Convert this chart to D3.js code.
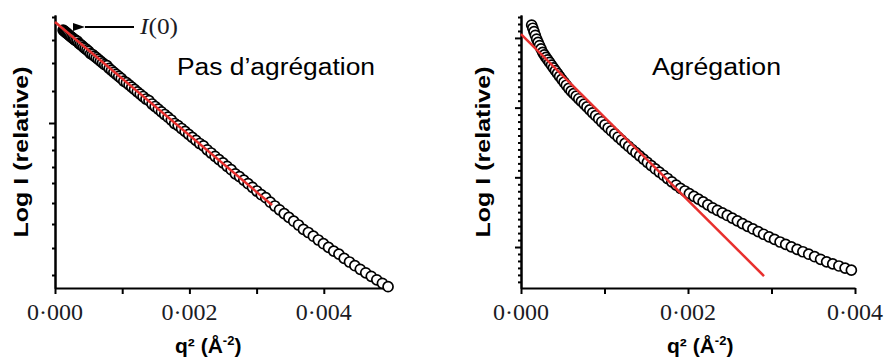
<!DOCTYPE html>
<html lang="fr">
  <head>
    <meta charset="UTF-8" />
    <title>Guinier plots</title>
    <script src="https://d3js.org/d3.v7.min.js"></script>
    <style>
      body {
        margin: 0;
        background: #fff;
      }
      .axis path,
      .axis line {
        stroke: #000;
        stroke-width: 2px;
      }
      .dot {
        fill: #fff;
        stroke: #000;
        stroke-width: 1.7px;
      }
      .fit {
        fill: none;
        stroke: #e8302e;
        stroke-width: 2.5px;
      }
    </style>
  </head>
  <body>
    <svg id="chart" width="888" height="360"></svg>

    <script>
      // q (Å^-1) and log I, left panel: no aggregation
      const leftQ = [
        0.011, 0.0116, 0.0122, 0.0128, 0.0134, 0.014, 0.0146, 0.0152, 0.0158, 0.0164,
        0.017, 0.0176, 0.0182, 0.0188, 0.0194, 0.02, 0.0206, 0.0212, 0.0218, 0.0224,
        0.023, 0.0236, 0.0242, 0.0248, 0.0254, 0.026, 0.0266, 0.0272, 0.0278, 0.0284,
        0.029, 0.0296, 0.0302, 0.0308, 0.0314, 0.032, 0.0326, 0.0332, 0.0338, 0.0344,
        0.035, 0.0356, 0.0362, 0.0368, 0.0374, 0.038, 0.0386, 0.0392, 0.0398, 0.0404,
        0.041, 0.0416, 0.0422, 0.0428, 0.0434, 0.044, 0.0446, 0.0452, 0.0458, 0.0464,
        0.047, 0.0476, 0.0482, 0.0488, 0.0494, 0.05, 0.0506, 0.0512, 0.0518, 0.0524,
        0.053, 0.0536, 0.0542, 0.0548, 0.0554, 0.056, 0.0566, 0.0572, 0.0578, 0.0584,
        0.059, 0.0596, 0.0602, 0.0608, 0.0614, 0.062, 0.0626, 0.0632, 0.0638, 0.0644,
        0.065, 0.0656, 0.0662, 0.0668, 0.0674, 0.068, 0.0686, 0.0692, 0.0698, 0.0704
      ];
      const leftLogI = [
        2.598, 2.591, 2.583, 2.575, 2.566, 2.557, 2.547, 2.537, 2.527, 2.516,
        2.505, 2.493, 2.489, 2.469, 2.456, 2.443, 2.429, 2.415, 2.401, 2.386,
        2.364, 2.355, 2.339, 2.323, 2.306, 2.289, 2.271, 2.253, 2.243, 2.216,
        2.197, 2.177, 2.157, 2.137, 2.116, 2.088, 2.073, 2.051, 2.029, 2.006,
        1.982, 1.959, 1.935, 1.91, 1.893, 1.86, 1.835, 1.809, 1.782, 1.755,
        1.728, 1.7, 1.665, 1.644, 1.615, 1.586, 1.556, 1.526, 1.496, 1.465,
        1.441, 1.402, 1.37, 1.337, 1.304, 1.271, 1.237, 1.203, 1.162, 1.134,
        1.099, 1.063, 1.027, 0.99, 0.953, 0.923, 0.878, 0.84, 0.802, 0.764,
        0.726, 0.688, 0.65, 0.606, 0.575, 0.538, 0.5, 0.463, 0.426, 0.389,
        0.359, 0.316, 0.28, 0.243, 0.207, 0.172, 0.137, 0.102, 0.067, 0.033
      ];
      const leftFitQ2 = [0, 0.00323];
      const leftFitLogI = [2.68, 0.85];

      // right panel: aggregation
      const rightQ = [
        0.0113, 0.0119, 0.0125, 0.0131, 0.0137, 0.0143, 0.0149, 0.0155, 0.0161, 0.0167,
        0.0173, 0.0179, 0.0185, 0.0191, 0.0197, 0.0203, 0.0209, 0.0215, 0.0221, 0.0227,
        0.0233, 0.0239, 0.0245, 0.0251, 0.0257, 0.0263, 0.0269, 0.0275, 0.0281, 0.0287,
        0.0293, 0.0299, 0.0305, 0.0311, 0.0317, 0.0323, 0.0329, 0.0335, 0.0341, 0.0347,
        0.0353, 0.0359, 0.0365, 0.0371, 0.0377, 0.0383, 0.0389, 0.0395, 0.0401, 0.0407,
        0.0413, 0.0419, 0.0425, 0.0431, 0.0437, 0.0443, 0.0449, 0.0455, 0.0461, 0.0467,
        0.0473, 0.0479, 0.0485, 0.0491, 0.0497, 0.0503, 0.0509, 0.0515, 0.0521, 0.0527,
        0.0533, 0.0539, 0.0545, 0.0551, 0.0557, 0.0563, 0.0569, 0.0575, 0.0581, 0.0587,
        0.0593, 0.0599, 0.0605, 0.0611, 0.0617, 0.0623, 0.0629
      ];
      const rightLogI = [
        4.185, 4.139, 4.09, 4.038, 3.984, 3.937, 3.891, 3.843, 3.793, 3.756,
        3.721, 3.685, 3.648, 3.61, 3.571, 3.531, 3.49, 3.447, 3.406, 3.364,
        3.321, 3.277, 3.236, 3.201, 3.164, 3.127, 3.089, 3.05, 3.01, 2.968,
        2.926, 2.884, 2.841, 2.797, 2.752, 2.708, 2.665, 2.622, 2.578, 2.533,
        2.488, 2.443, 2.399, 2.354, 2.308, 2.262, 2.215, 2.167, 2.12, 2.075,
        2.03, 1.983, 1.936, 1.889, 1.842, 1.804, 1.766, 1.727, 1.687, 1.647,
        1.605, 1.563, 1.527, 1.49, 1.453, 1.415, 1.376, 1.336, 1.297, 1.259,
        1.221, 1.183, 1.146, 1.109, 1.072, 1.037, 1.002, 0.967, 0.932, 0.897,
        0.861, 0.824, 0.787, 0.758, 0.728, 0.698, 0.668
      ];
      const rightFitQ2 = [0, 0.00291];
      const rightFitLogI = [4.056, 0.584];

      const xTicksLeft = [0, 0.001, 0.002, 0.003, 0.004];
      const xTicksRight = [0, 0.001, 0.002, 0.003, 0.004];
      const xLabelTicks = [0, 0.002, 0.004];
      const yTicksLeft = [2.73, 2.5, 2.27, 1.99, 1.53, 1.4, 1.23, 1.07, 0.87, 0.66, 0.42, 0.15];
      const yMajorLeft = [1.67];
      const yMajorRight = [1, 2, 3, 4];

      const serif = "'Liberation Serif', 'DejaVu Serif', serif";
      const sans = "'Liberation Sans', Arial, sans-serif";

      const svg = d3.select("#chart");
      const fmt = (v) => d3.format(".3f")(v).replace(".", "·");

      const panels = [
        {
          q: leftQ, logI: leftLogI, fitQ2: leftFitQ2, fitLogI: leftFitLogI,
          x: d3.scaleLinear().domain([0, 0.005]).range([55, 391]),
          y: d3.scaleLinear().domain([0.02, 2.75]).range([288, 15]),
          xTicks: xTicksLeft,
          yMinor: yTicksLeft,
          yMajor: yMajorLeft,
          yTitleX: 28, xTitleX: 216,
          note: "Pas d’agrégation", noteX: 177, noteLen: 198
        },
        {
          q: rightQ, logI: rightLogI, fitQ2: rightFitQ2, fitLogI: rightFitLogI,
          x: d3.scaleLinear().domain([0, 0.004]).range([521, 855]),
          y: d3.scaleLinear().domain([0.412, 4.329]).range([288, 15]),
          xTicks: xTicksRight,
          yMinor: null,
          yMajor: yMajorRight,
          yTitleX: 490, xTitleX: 708,
          note: "Agrégation", noteX: 652, noteLen: 129
        }
      ];

      panels.forEach((p) => {
        const [x0, x1] = p.x.range();
        const [yBottom, yTop] = p.y.range();
        const minor = p.yMinor || p.y.ticks(40).filter((t) => !p.yMajor.some((m) => Math.abs(m - t) < 1e-6));

        // y axis: minor then major ticks
        svg.append("g")
          .attr("class", "axis")
          .attr("transform", `translate(${x0},0)`)
          .call(d3.axisLeft(p.y).tickValues(minor).tickSize(3).tickSizeOuter(0).tickFormat(""));
        svg.append("g")
          .attr("class", "axis")
          .attr("transform", `translate(${x0},0)`)
          .call(d3.axisLeft(p.y).tickValues(p.yMajor).tickSize(6).tickSizeOuter(0).tickFormat(""));

        // x axis
        svg.append("g")
          .attr("class", "axis")
          .attr("transform", `translate(0,${yBottom})`)
          .call(d3.axisBottom(p.x).tickValues(p.xTicks).tickSize(6).tickSizeOuter(0).tickFormat(""));

        svg.selectAll(null)
          .data(xLabelTicks)
          .enter()
          .append("text")
          .attr("x", (d) => p.x(d))
          .attr("y", 320)
          .attr("text-anchor", "middle")
          .style("font-family", serif)
          .style("font-size", "23px")
          .style("fill", "#1b1b24")
          .attr("textLength", 56)
          .attr("lengthAdjust", "spacingAndGlyphs")
          .text(fmt);

        // points, later ones drawn on top
        const pts = p.q.map((q, i) => ({ q2: q * q, v: p.logI[i] }));
        svg.append("g")
          .selectAll("circle")
          .data(pts)
          .enter()
          .append("circle")
          .attr("class", "dot")
          .attr("cx", (d) => p.x(d.q2))
          .attr("cy", (d) => p.y(d.v))
          .attr("r", 5);

        // Guinier fit
        const line = d3.line().x((d) => p.x(d[0])).y((d) => p.y(d[1]));
        svg.append("path")
          .attr("class", "fit")
          .attr("d", line(p.fitQ2.map((q2, i) => [q2, p.fitLogI[i]])));

        // titles
        svg.append("text")
          .attr("transform", `translate(${p.yTitleX},152) rotate(-90)`)
          .attr("text-anchor", "middle")
          .style("font-family", sans)
          .style("font-weight", "bold")
          .style("font-size", "21px")
          .attr("textLength", 171)
          .attr("lengthAdjust", "spacingAndGlyphs")
          .text("Log I (relative)");

        const xt = svg.append("text")
          .attr("x", p.xTitleX - 41)
          .attr("y", 353)
          .style("font-family", sans)
          .style("font-weight", "bold")
          .style("font-size", "21px");
        xt.append("tspan").text("q² (Å");
        xt.append("tspan").attr("dy", -8).style("font-size", "13px").text("-2");
        xt.append("tspan").attr("dy", 8).text(")");

        svg.append("text")
          .attr("x", p.noteX)
          .attr("y", 75)
          .style("font-family", sans)
          .style("font-size", "23px")
          .attr("textLength", p.noteLen)
          .attr("lengthAdjust", "spacingAndGlyphs")
          .text(p.note);
      });

      // I(0) arrow on the left panel
      svg.append("defs")
        .append("marker")
        .attr("id", "head")
        .attr("viewBox", "0 0 12 8")
        .attr("refX", 0)
        .attr("refY", 4)
        .attr("markerWidth", 12)
        .attr("markerHeight", 8)
        .attr("markerUnits", "userSpaceOnUse")
        .attr("orient", "auto")
        .append("path")
        .attr("d", "M12,0 L0,4 L12,8 Z")
        .attr("fill", "#000");

      svg.append("line")
        .attr("x1", 134)
        .attr("y1", 27)
        .attr("x2", 85)
        .attr("y2", 27)
        .attr("stroke", "#000")
        .attr("stroke-width", 2)
        .attr("marker-end", "url(#head)");

      const i0 = svg.append("text")
        .attr("x", 140)
        .attr("y", 34)
        .style("font-family", serif)
        .style("font-size", "24px")
        .style("fill", "#1b1b24")
        .attr("textLength", 38)
        .attr("lengthAdjust", "spacingAndGlyphs");
      i0.append("tspan").style("font-style", "italic").text("I");
      i0.append("tspan").text("(0)");
    </script>
  </body>
</html>
